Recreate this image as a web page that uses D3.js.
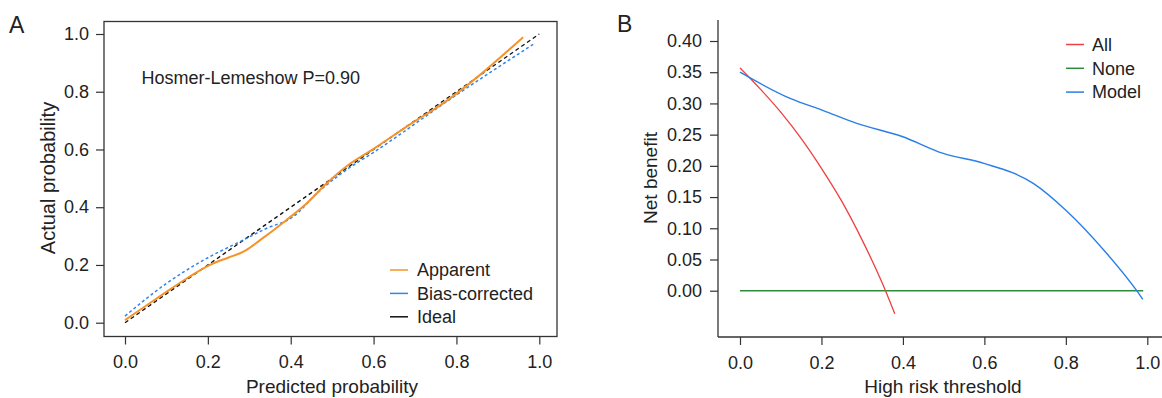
<!DOCTYPE html>
<html>
<head>
<meta charset="utf-8">
<script src="https://cdn.jsdelivr.net/npm/d3@7"></script>
<style>
  body { margin: 0; background: #fff; }
  svg { font-family: "Liberation Sans", Arial, Helvetica, sans-serif; }
  .axis text { font-size: 18px; fill: #222; }
  .axis path, .axis line { stroke: #333; stroke-width: 1.2; }
</style>
</head>
<body>
<script>
// ---- data ----
// panel A: calibration curve
const probTicks = [0, 0.2, 0.4, 0.6, 0.8, 1.0];
const apparentX = [0.0, 0.05, 0.10, 0.15, 0.205, 0.25, 0.286, 0.326, 0.39, 0.439, 0.487, 0.535, 0.60, 0.704, 0.744, 0.961];
const apparentY = [0.009, 0.058, 0.107, 0.154, 0.20, 0.226, 0.246, 0.286, 0.356, 0.414, 0.483, 0.542, 0.602, 0.702, 0.737, 0.989];
const biasX = [0.0, 0.10, 0.205, 0.278, 0.342, 0.406, 0.463, 0.535, 0.60, 0.80, 0.986];
const biasY = [0.023, 0.136, 0.229, 0.281, 0.327, 0.367, 0.448, 0.530, 0.590, 0.789, 0.965];
const idealX = [0, 1];
const idealY = [0, 1];
const calibLegend = ["Apparent", "Bias-corrected", "Ideal"];

// panel B: decision curve
const threshTicks = [0, 0.2, 0.4, 0.6, 0.8, 1.0];
const nbTicks = [0, 0.05, 0.10, 0.15, 0.20, 0.25, 0.30, 0.35, 0.40];
const allX = [0, 0.05, 0.10, 0.15, 0.20, 0.25, 0.30, 0.35, 0.38];
const allY = [0.357, 0.323, 0.286, 0.244, 0.196, 0.143, 0.081, 0.011, -0.037];
const noneX = [0, 0.99];
const noneY = [0, 0];
const modelX = [0, 0.123, 0.2045, 0.2865, 0.398, 0.499, 0.599, 0.72, 0.80, 0.90, 0.974, 0.989];
const modelY = [0.35, 0.308, 0.2885, 0.268, 0.247, 0.220, 0.204, 0.172, 0.129, 0.060, 0.0, -0.014];
const dcaLegend = ["All", "None", "Model"];

const W = 1162, H = 398;
const svg = d3.select("body").append("svg").attr("width", W).attr("height", H);

function pts(xs, ys) { return xs.map((x, i) => [x, ys[i]]); }

// ================= Panel A =================
var xA = d3.scaleLinear().domain([0, 1]).range([125, 539.3]);
var yA = d3.scaleLinear().domain([0, 1]).range([322.7, 34]);

// box
svg.append("rect")
  .attr("x", 104).attr("y", 21.5)
  .attr("width", 557 - 104).attr("height", 336.5 - 21.5)
  .attr("fill", "none").attr("stroke", "#333").attr("stroke-width", 1.3);

svg.append("g").attr("class", "axis")
  .attr("transform", "translate(0,336.5)")
  .call(d3.axisBottom(xA).tickValues(probTicks).tickFormat(d3.format(".1f"))
    .tickSize(8).tickPadding(11).tickSizeOuter(0))
  .call(g => g.select(".domain").remove());

svg.append("g").attr("class", "axis")
  .attr("transform", "translate(104,0)")
  .call(d3.axisLeft(yA).tickValues(probTicks).tickFormat(d3.format(".1f"))
    .tickSize(8).tickPadding(7).tickSizeOuter(0))
  .call(g => g.select(".domain").remove());

var lineA = d3.line().x(d => xA(d[0])).y(d => yA(d[1])).curve(d3.curveMonotoneX);

svg.append("path").datum(pts(idealX, idealY))
  .attr("d", lineA).attr("fill", "none")
  .attr("stroke", "#111").attr("stroke-width", 1.3).attr("stroke-dasharray", "4,3");
svg.append("path").datum(pts(biasX, biasY))
  .attr("d", lineA).attr("fill", "none")
  .attr("stroke", "#2F86EB").attr("stroke-width", 1.5).attr("stroke-dasharray", "3,2.5");
svg.append("path").datum(pts(apparentX, apparentY))
  .attr("d", lineA).attr("fill", "none")
  .attr("stroke", "#F5932A").attr("stroke-width", 2);

svg.append("text").attr("x", 141.5).attr("y", 83.5)
  .attr("font-size", 18).attr("fill", "#222")
  .text("Hosmer-Lemeshow P=0.90");

var legA = svg.append("g");
var colA = ["#F5932A", "#2F86EB", "#111"];
calibLegend.forEach((name, i) => {
  var y = 270 + i * 23.4;
  legA.append("line").attr("x1", 390).attr("x2", 408).attr("y1", y).attr("y2", y)
    .attr("stroke", colA[i]).attr("stroke-width", 1.5);
  legA.append("text").attr("x", 417).attr("y", y).attr("dy", "0.35em")
    .attr("font-size", 18).attr("fill", "#222").text(name);
});

svg.append("text").attr("x", 332).attr("y", 393)
  .attr("text-anchor", "middle").attr("font-size", 19).attr("fill", "#222")
  .text("Predicted probability");
svg.append("text").attr("transform", "translate(55,178) rotate(-90)")
  .attr("text-anchor", "middle").attr("font-size", 20).attr("fill", "#222")
  .text("Actual probability");
svg.append("text").attr("x", 9).attr("y", 33)
  .attr("font-size", 23).attr("fill", "#222").text("A");

// ================= Panel B =================
var xB = d3.scaleLinear().domain([0, 1]).range([740, 1147.3]);
var yB = d3.scaleLinear().domain([0, 0.40]).range([290.7, 41]);

svg.append("line").attr("x1", 718).attr("x2", 718).attr("y1", 20).attr("y2", 337)
  .attr("stroke", "#333").attr("stroke-width", 1.3);
svg.append("line").attr("x1", 718).attr("x2", 1162).attr("y1", 337).attr("y2", 337)
  .attr("stroke", "#333").attr("stroke-width", 1.3);

svg.append("g").attr("class", "axis")
  .attr("transform", "translate(0,337)")
  .call(d3.axisBottom(xB).tickValues(threshTicks).tickFormat(d3.format(".1f"))
    .tickSize(8).tickPadding(11).tickSizeOuter(0))
  .call(g => g.select(".domain").remove());

svg.append("g").attr("class", "axis")
  .attr("transform", "translate(718,0)")
  .call(d3.axisLeft(yB).tickValues(nbTicks).tickFormat(d3.format(".2f"))
    .tickSize(8).tickPadding(8).tickSizeOuter(0))
  .call(g => g.select(".domain").remove());

var lineB = d3.line().x(d => xB(d[0])).y(d => yB(d[1])).curve(d3.curveMonotoneX);

svg.append("path").datum(pts(noneX, noneY))
  .attr("d", lineB).attr("fill", "none").attr("stroke", "#2E8B3E").attr("stroke-width", 1.4);
svg.append("path").datum(pts(allX, allY))
  .attr("d", lineB).attr("fill", "none").attr("stroke", "#EE4040").attr("stroke-width", 1.3);
svg.append("path").datum(pts(modelX, modelY))
  .attr("d", lineB).attr("fill", "none").attr("stroke", "#2A7FE6").attr("stroke-width", 1.4);

var legB = svg.append("g");
var colB = ["#EE4040", "#2E8B3E", "#2A7FE6"];
dcaLegend.forEach((name, i) => {
  var y = 44.5 + i * 23.8;
  legB.append("line").attr("x1", 1066).attr("x2", 1084).attr("y1", y).attr("y2", y)
    .attr("stroke", colB[i]).attr("stroke-width", 1.5);
  legB.append("text").attr("x", 1092).attr("y", y).attr("dy", "0.35em")
    .attr("font-size", 18).attr("fill", "#222").text(name);
});

svg.append("text").attr("x", 943).attr("y", 393)
  .attr("text-anchor", "middle").attr("font-size", 19).attr("fill", "#222")
  .text("High risk threshold");
svg.append("text").attr("transform", "translate(657,178) rotate(-90)")
  .attr("text-anchor", "middle").attr("font-size", 19).attr("fill", "#222")
  .text("Net benefit");
svg.append("text").attr("x", 617).attr("y", 32)
  .attr("font-size", 23).attr("fill", "#222").text("B");
</script>
</body>
</html>
